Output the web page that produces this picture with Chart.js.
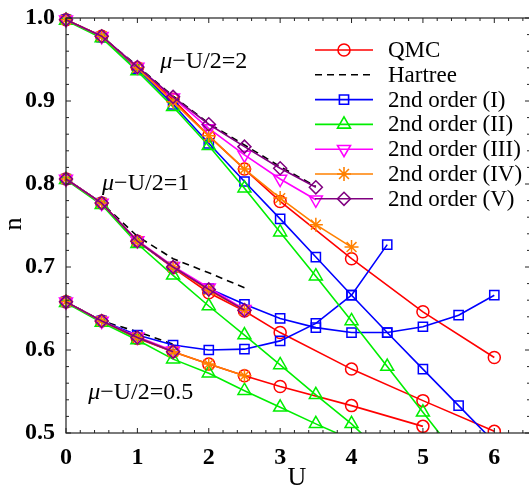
<!DOCTYPE html>
<html><head><meta charset="utf-8">
<script src="https://cdn.jsdelivr.net/npm/chart.js@4.4.1/dist/chart.umd.min.js"></script>
</head><body style="margin:0;overflow:hidden">
<canvas id="plot" width="539" height="493"></canvas>
<script>
// U grid shared by every curve (null = no point at that U)
const uValues = [0, 0.5, 1, 1.5, 2, 2.5, 3, 3.5, 4, 4.5, 5, 5.5, 6];
const xTicks = [0, 1, 2, 3, 4, 5, 6];
const yTicks = [0.5, 0.6, 0.7, 0.8, 0.9, 1.0];
const seriesNames = ['QMC', 'Hartree', '2nd order (I)', '2nd order (II)', '2nd order (III)', '2nd order (IV)', '2nd order (V)'];
const groupLabels = ['\u03bc', '\u2212U/2=2', '\u2212U/2=1', '\u2212U/2=0.5'];

// mu - U/2 = 2
const qmcMu2     = [0.998, 0.978, 0.940, 0.902, 0.858, 0.818, 0.779, null, 0.710, null, 0.646, null, 0.591];
const hartreeMu2 = [0.998, 0.978, 0.942, 0.906, 0.873, 0.847, 0.821, 0.797, null, null, null, null, null];
const ordIMu2    = [0.998, 0.977, 0.939, 0.896, 0.849, 0.803, 0.758, 0.712, 0.666, 0.621, 0.577, 0.533, 0.489];
const ordIIMu2   = [0.997, 0.976, 0.936, 0.893, 0.846, 0.795, 0.742, 0.689, 0.635, 0.580, 0.525, 0.470, null];
const ordIIIMu2  = [0.998, 0.978, 0.941, 0.904, 0.867, 0.835, 0.806, 0.781, null, null, null, null, null];
const ordIVMu2   = [0.998, 0.978, 0.940, 0.899, 0.858, 0.818, 0.783, 0.751, 0.724, null, null, null, null];
const ordVMu2    = [0.998, 0.978, 0.941, 0.905, 0.872, 0.845, 0.819, 0.796, null, null, null, null, null];

// mu - U/2 = 1
const qmcMu1     = [0.806, 0.777, 0.731, 0.699, 0.669, 0.647, 0.621, null, 0.577, null, 0.539, null, 0.502];
const hartreeMu1 = [0.806, 0.777, 0.737, 0.710, 0.693, 0.675, null, null, null, null, null, null, null];
const ordIMu1    = [0.806, 0.777, 0.731, 0.700, 0.674, 0.655, 0.638, 0.627, 0.621, 0.621, 0.628, 0.642, 0.666];
const ordIIMu1   = [0.805, 0.775, 0.728, 0.690, 0.653, 0.618, 0.582, 0.546, 0.511, 0.470, null, null, null];
const ordIIIMu1  = [0.806, 0.777, 0.732, 0.701, 0.675, 0.649, null, null, null, null, null, null, null];
const ordIVMu1   = [0.806, 0.777, 0.731, 0.700, 0.672, 0.648, null, null, null, null, null, null, null];
const ordVMu1    = [0.806, 0.777, 0.731, 0.700, 0.673, 0.648, null, null, null, null, null, null, null];

// mu - U/2 = 0.5
const qmcMu05     = [0.658, 0.635, 0.614, 0.598, 0.583, 0.569, 0.556, null, 0.533, null, 0.508, null, null];
const hartreeMu05 = [0.658, 0.635, 0.622, 0.607, null, null, null, null, null, null, null, null, null];
const ordIMu05    = [0.658, 0.635, 0.618, 0.606, 0.600, 0.601, 0.611, 0.632, 0.666, 0.727, null, null, null];
const ordIIMu05   = [0.657, 0.633, 0.612, 0.589, 0.572, 0.551, 0.531, 0.511, 0.492, null, null, null, null];
const ordIIIMu05  = [0.658, 0.635, 0.616, 0.599, null, null, null, null, null, null, null, null, null];
const ordIVMu05   = [0.658, 0.635, 0.615, 0.598, 0.583, 0.569, null, null, null, null, null, null, null];
const ordVMu05    = [0.658, 0.635, 0.615, 0.598, null, null, null, null, null, null, null, null, null];

const groups = [
  [qmcMu2, hartreeMu2, ordIMu2, ordIIMu2, ordIIIMu2, ordIVMu2, ordVMu2],
  [qmcMu1, hartreeMu1, ordIMu1, ordIIMu1, ordIIIMu1, ordIVMu1, ordVMu1],
  [qmcMu05, hartreeMu05, ordIMu05, ordIIMu05, ordIIIMu05, ordIVMu05, ordVMu05]
];

// line / marker look for each series
const looks = [
  { color: '#ff0000', style: 'circle', radius: 6, rotation: 0 },
  { color: '#000000', style: false, radius: 0, rotation: 0, dash: [7, 5] },
  { color: '#0000ff', style: 'rect', radius: 6.5, rotation: 0 },
  { color: '#00ee00', style: 'triangle', radius: 7.5, rotation: 0 },
  { color: '#ff00ff', style: 'triangle', radius: 7.5, rotation: 180 },
  { color: '#ff8000', style: 'star', radius: 7, rotation: 0 },
  { color: '#800080', style: 'rectRot', radius: 6.5, rotation: 0 }
];

const datasets = [];
groups.forEach(group => {
  group.forEach((vals, s) => {
    const lk = looks[s];
    datasets.push({
      label: seriesNames[s],
      data: uValues.map((u, i) => ({ x: u, y: vals[i] })).filter(p => p.y !== null),
      borderColor: lk.color,
      borderWidth: 1.6,
      borderDash: lk.dash || [],
      pointStyle: lk.style,
      pointRadius: lk.radius,
      pointRotation: lk.rotation,
      pointBorderColor: lk.color,
      pointBorderWidth: 1.5,
      pointBackgroundColor: 'rgba(0,0,0,0)',
      tension: 0,
      order: 6 - s,
      clip: { left: 12, top: 12, right: 12, bottom: 0 }
    });
  });
});

// frame, inside ticks, legend and text labels
const decor = {
  id: 'decor',
  afterDraw(chart) {
    const ctx = chart.ctx;
    const a = chart.chartArea;
    const xs = chart.scales.x, ys = chart.scales.y;
    ctx.save();
    ctx.strokeStyle = '#222';
    ctx.lineWidth = 1.2;
    ctx.strokeRect(a.left, a.top, a.right - a.left, a.bottom - a.top);

    ctx.lineWidth = 1;
    ctx.beginPath();
    for (let k = 0; k <= 32; k++) {
      const px = xs.getPixelForValue(k * 0.2);
      const len = k % 5 === 0 ? 5 : 3;
      ctx.moveTo(px, a.bottom); ctx.lineTo(px, a.bottom - len);
      ctx.moveTo(px, a.top); ctx.lineTo(px, a.top + len);
    }
    for (let k = 0; k <= 25; k++) {
      const py = ys.getPixelForValue(0.5 + k * 0.02);
      const len = k % 5 === 0 ? 5 : 3;
      ctx.moveTo(a.left, py); ctx.lineTo(a.left + len, py);
      ctx.moveTo(a.right, py); ctx.lineTo(a.right - len, py);
    }
    ctx.stroke();

    // legend
    const lx0 = 315, lx1 = 373, lmx = 344, ltx = 388, ly0 = 50, lstep = 24.8;
    ctx.textBaseline = 'middle';
    ctx.textAlign = 'left';
    seriesNames.forEach((name, s) => {
      const lk = looks[s];
      const y = ly0 + s * lstep;
      ctx.strokeStyle = lk.color;
      ctx.lineWidth = 1.6;
      ctx.setLineDash(lk.dash || []);
      ctx.beginPath(); ctx.moveTo(lx0, y); ctx.lineTo(lx1, y); ctx.stroke();
      ctx.setLineDash([]);
      if (lk.style && Chart.helpers && Chart.helpers.drawPoint) {
        ctx.fillStyle = 'rgba(0,0,0,0)';
        Chart.helpers.drawPoint(ctx, { pointStyle: lk.style, rotation: lk.rotation, radius: lk.radius, borderWidth: 1.5 }, lmx, y);
      }
      ctx.fillStyle = '#000';
      ctx.font = "23px 'Liberation Serif'";
      ctx.fillText(name, ltx, y + 1);
    });

    // mu - U/2 labels
    const labelAt = [[1.32, 0.947], [0.505, 0.8005], [0.31, 0.548]];
    labelAt.forEach((p, g) => {
      const px = xs.getPixelForValue(p[0]);
      const py = ys.getPixelForValue(p[1]);
      ctx.font = "italic 24px 'Liberation Serif'";
      ctx.fillText(groupLabels[0], px, py);
      const w = ctx.measureText(groupLabels[0]).width;
      ctx.font = "24px 'Liberation Serif'";
      ctx.fillText(groupLabels[g + 1], px + w, py);
    });

    // axis titles
    ctx.font = "26px 'Liberation Serif'";
    ctx.textAlign = 'center';
    ctx.fillText('U', 297, 478);
    ctx.save();
    ctx.translate(14, 224);
    ctx.rotate(-Math.PI / 2);
    ctx.fillText('n', 0, 0);
    ctx.restore();
    ctx.restore();
  }
};

new Chart(document.getElementById('plot'), {
  type: 'line',
  data: { datasets: datasets },
  options: {
    responsive: false,
    devicePixelRatio: 1,
    animation: false,
    layout: { padding: { top: 18, right: 0, bottom: 0, left: 0 } },
    plugins: { legend: { display: false }, tooltip: { enabled: false } },
    scales: {
      x: {
        type: 'linear',
        min: 0,
        max: 6.5,
        grid: { display: false },
        border: { display: false },
        afterBuildTicks: sc => { sc.ticks = xTicks.map(v => ({ value: v })); },
        afterFit: sc => { sc.height = 60; },
        ticks: { font: { family: "'Liberation Serif'", size: 24, weight: 'bold' }, color: '#000', padding: 2, maxRotation: 0, callback: v => String(v) }
      },
      y: {
        type: 'linear',
        min: 0.5,
        max: 1.0,
        grid: { display: false },
        border: { display: false },
        afterBuildTicks: sc => { sc.ticks = yTicks.map(v => ({ value: v })); },
        afterFit: sc => { sc.width = 66; },
        ticks: { font: { family: "'Liberation Serif'", size: 24, weight: 'bold' }, color: '#000', padding: 3, callback: v => Number(v).toFixed(1) }
      }
    }
  },
  plugins: [decor]
});
</script>
</body></html>
